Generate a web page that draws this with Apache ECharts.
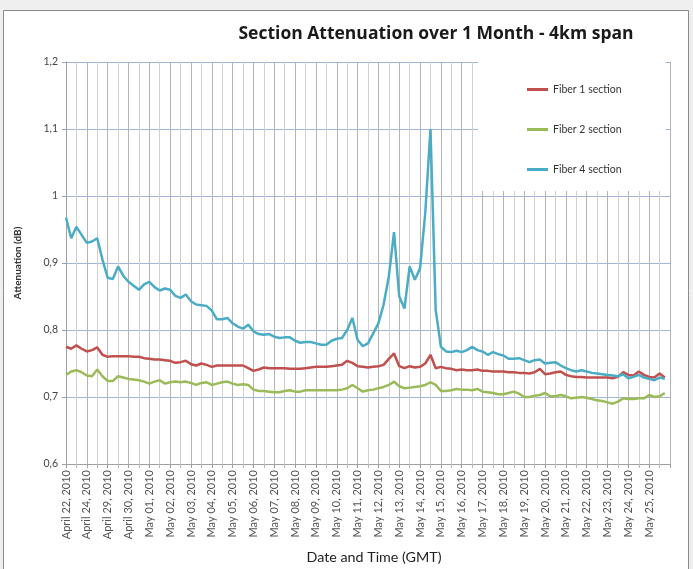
<!DOCTYPE html>
<html>
<head>
<meta charset="utf-8">
<script src="https://cdn.jsdelivr.net/npm/echarts@6/dist/echarts.min.js"></script>
<style>html,body{margin:0;padding:0;background:#efefef;}#c{width:693px;height:569px;}</style>
</head>
<body>
<div id="c"></div>
<script>
// Category labels (one per x unit)
const dateLabels = ['April 22, 2010','April 24, 2010','April 29, 2010','April 30, 2010',
  'May 01, 2010','May 02, 2010','May 03, 2010','May 04, 2010','May 05, 2010','May 06, 2010',
  'May 07, 2010','May 08, 2010','May 09, 2010','May 10, 2010','May 11, 2010','May 12, 2010',
  'May 13, 2010','May 14, 2010','May 15, 2010','May 16, 2010','May 17, 2010','May 18, 2010',
  'May 19, 2010','May 20, 2010','May 21, 2010','May 22, 2010','May 23, 2010','May 24, 2010',
  'May 25, 2010'];
// samples every quarter of a label interval
const sampleStep = 0.25;
const fiber1 = [0.775,0.772,0.777,0.772,0.768,0.770,0.774,0.763,0.760,0.761,0.761,0.761,
  0.761,0.760,0.760,0.758,0.757,0.756,0.756,0.755,0.754,0.751,0.752,0.754,0.749,0.747,0.750,0.748,
  0.745,0.747,0.747,0.747,0.747,0.747,0.747,0.743,0.739,0.741,0.744,0.743,0.743,0.743,0.743,0.742,
  0.742,0.742,0.743,0.744,0.745,0.745,0.745,0.746,0.747,0.748,0.754,0.751,0.746,0.745,0.744,0.745,
  0.746,0.748,0.757,0.765,0.746,0.743,0.746,0.744,0.745,0.750,0.763,0.743,0.745,0.743,0.742,0.740,
  0.741,0.740,0.740,0.741,0.739,0.739,0.738,0.738,0.738,0.737,0.737,0.736,0.736,0.735,0.737,0.742,
  0.734,0.735,0.737,0.738,0.733,0.731,0.730,0.730,0.729,0.729,0.729,0.729,0.729,0.728,0.730,0.737,
  0.733,0.732,0.738,0.733,0.730,0.729,0.735,0.729];
const fiber2 = [0.733,0.738,0.740,0.737,0.732,0.731,0.741,0.731,0.724,0.724,0.731,0.729,
  0.727,0.726,0.725,0.723,0.720,0.723,0.725,0.720,0.722,0.723,0.722,0.723,0.721,0.718,0.721,0.722,
  0.718,0.720,0.722,0.723,0.720,0.718,0.719,0.718,0.711,0.709,0.709,0.708,0.707,0.707,0.709,0.710,
  0.708,0.708,0.710,0.710,0.710,0.710,0.710,0.710,0.710,0.711,0.713,0.718,0.713,0.708,0.710,0.711,
  0.713,0.715,0.718,0.723,0.716,0.713,0.714,0.715,0.716,0.718,0.722,0.718,0.709,0.709,0.710,0.712,
  0.711,0.711,0.710,0.712,0.708,0.707,0.706,0.704,0.704,0.706,0.708,0.705,0.700,0.700,0.702,0.703,
  0.706,0.701,0.701,0.703,0.701,0.698,0.699,0.700,0.699,0.697,0.695,0.694,0.692,0.690,0.693,0.698,
  0.697,0.697,0.698,0.698,0.703,0.700,0.701,0.706];
const fiber4 = [0.968,0.937,0.954,0.942,0.930,0.932,0.937,0.905,0.878,0.876,0.895,0.881,
  0.872,0.866,0.860,0.868,0.872,0.864,0.859,0.862,0.860,0.851,0.848,0.853,0.843,0.838,0.837,0.836,
  0.829,0.816,0.816,0.818,0.810,0.805,0.802,0.808,0.798,0.794,0.793,0.794,0.790,0.788,0.789,0.789,
  0.784,0.781,0.782,0.782,0.780,0.778,0.778,0.784,0.787,0.788,0.800,0.818,0.785,0.776,0.780,0.795,
  0.810,0.838,0.880,0.946,0.850,0.832,0.895,0.875,0.892,0.975,1.100,0.830,0.775,0.768,0.767,0.769,
  0.767,0.770,0.775,0.770,0.768,0.763,0.767,0.764,0.762,0.757,0.757,0.758,0.755,0.752,0.755,0.756,
  0.750,0.751,0.752,0.747,0.743,0.740,0.738,0.740,0.738,0.736,0.735,0.734,0.733,0.732,0.731,0.734,
  0.728,0.730,0.733,0.729,0.727,0.725,0.729,0.727];
const seriesNames = ['Fiber 1 section','Fiber 2 section','Fiber 4 section'];
const seriesColors = ['#c0504d','#9bbb59','#4bacc6'];
const yTicks = [0.6,0.7,0.8,0.9,1.0,1.1,1.2];

const toPairs = arr => arr.map((v,i) => [i*sampleStep, v]);
const chart = echarts.init(document.getElementById('c'), null, {renderer:'canvas'});
const font = 'Lato, "Open Sans", sans-serif';
chart.setOption({
  backgroundColor: '#efefef',
  animation: false,
  graphic: [{type:'rect', z:-10, silent:true, shape:{x:3.5,y:10.5,width:685,height:570},
    style:{fill:'#ffffff', stroke:'#8a8a8a', lineWidth:1}}],
  title: {text:'Section Attenuation over 1 Month - 4km span', left:431, top:20, textAlign:'center',
    textStyle:{fontFamily:'"Open Sans", sans-serif', fontWeight:'bold', fontSize:17.5, color:'#1a1a1a'}},
  legend: {orient:'vertical', left:478, top:62, padding:[22,44,16,49], itemGap:29,
    backgroundColor:'#ffffff', borderWidth:0,
    itemWidth:21, itemHeight:3, icon:'rect', data:seriesNames,
    textStyle:{fontFamily:font, fontSize:10.5, color:'#333'}},
  grid: {left:66, right:23, top:62, bottom:103},
  xAxis: {type:'value', min:0, max:29, interval:1,
    name:'Date and Time (GMT)', nameLocation:'middle', nameGap:86,
    nameTextStyle:{fontFamily:font, fontSize:14.3, color:'#222', padding:[0,0,0,12]},
    axisLine:{show:true, lineStyle:{color:'#a0a0a0'}},
    axisTick:{show:true, length:4, lineStyle:{color:'#a0a0a0'}},
    minorTick:{show:true, splitNumber:2, length:4, lineStyle:{color:'#b8b8b8'}},
    splitLine:{show:true, lineStyle:{color:'#b4b4b4', width:1}},
    minorSplitLine:{show:true, lineStyle:{color:'#d0d0d0', width:1}},
    axisLabel:{rotate:90, margin:6, fontFamily:font, fontSize:11, color:'#555',
      formatter: v => (Number.isInteger(v) && dateLabels[v]) ? dateLabels[v] : ''}},
  yAxis: {type:'value', min:0.6, max:1.2, interval:0.1,
    name:'Attenuation (dB)', nameLocation:'middle', nameGap:43,
    nameTextStyle:{fontFamily:font, fontSize:10, fontWeight:'bold', color:'#333'},
    axisLine:{show:true, lineStyle:{color:'#a0a0a0'}},
    axisTick:{show:true, length:4, lineStyle:{color:'#a0a0a0'}},
    splitLine:{show:true, lineStyle:{color:'#9fb6d6', width:1}},
    axisLabel:{margin:8, fontFamily:font, fontSize:10.5, color:'#444',
      formatter: v => { const t = yTicks.find(x => Math.abs(x-v) < 1e-6); return t===undefined ? '' : String(+t.toFixed(1)).replace('.', ','); }}},
  series: [fiber1, fiber2, fiber4].map((arr,k) => ({
    name: seriesNames[k], type:'line', data: toPairs(arr), showSymbol:false, symbol:'none',
    smooth:false, lineStyle:{color:seriesColors[k], width:2.5}, itemStyle:{color:seriesColors[k]}, z:2+k
  }))
});
</script>
</body>
</html>
